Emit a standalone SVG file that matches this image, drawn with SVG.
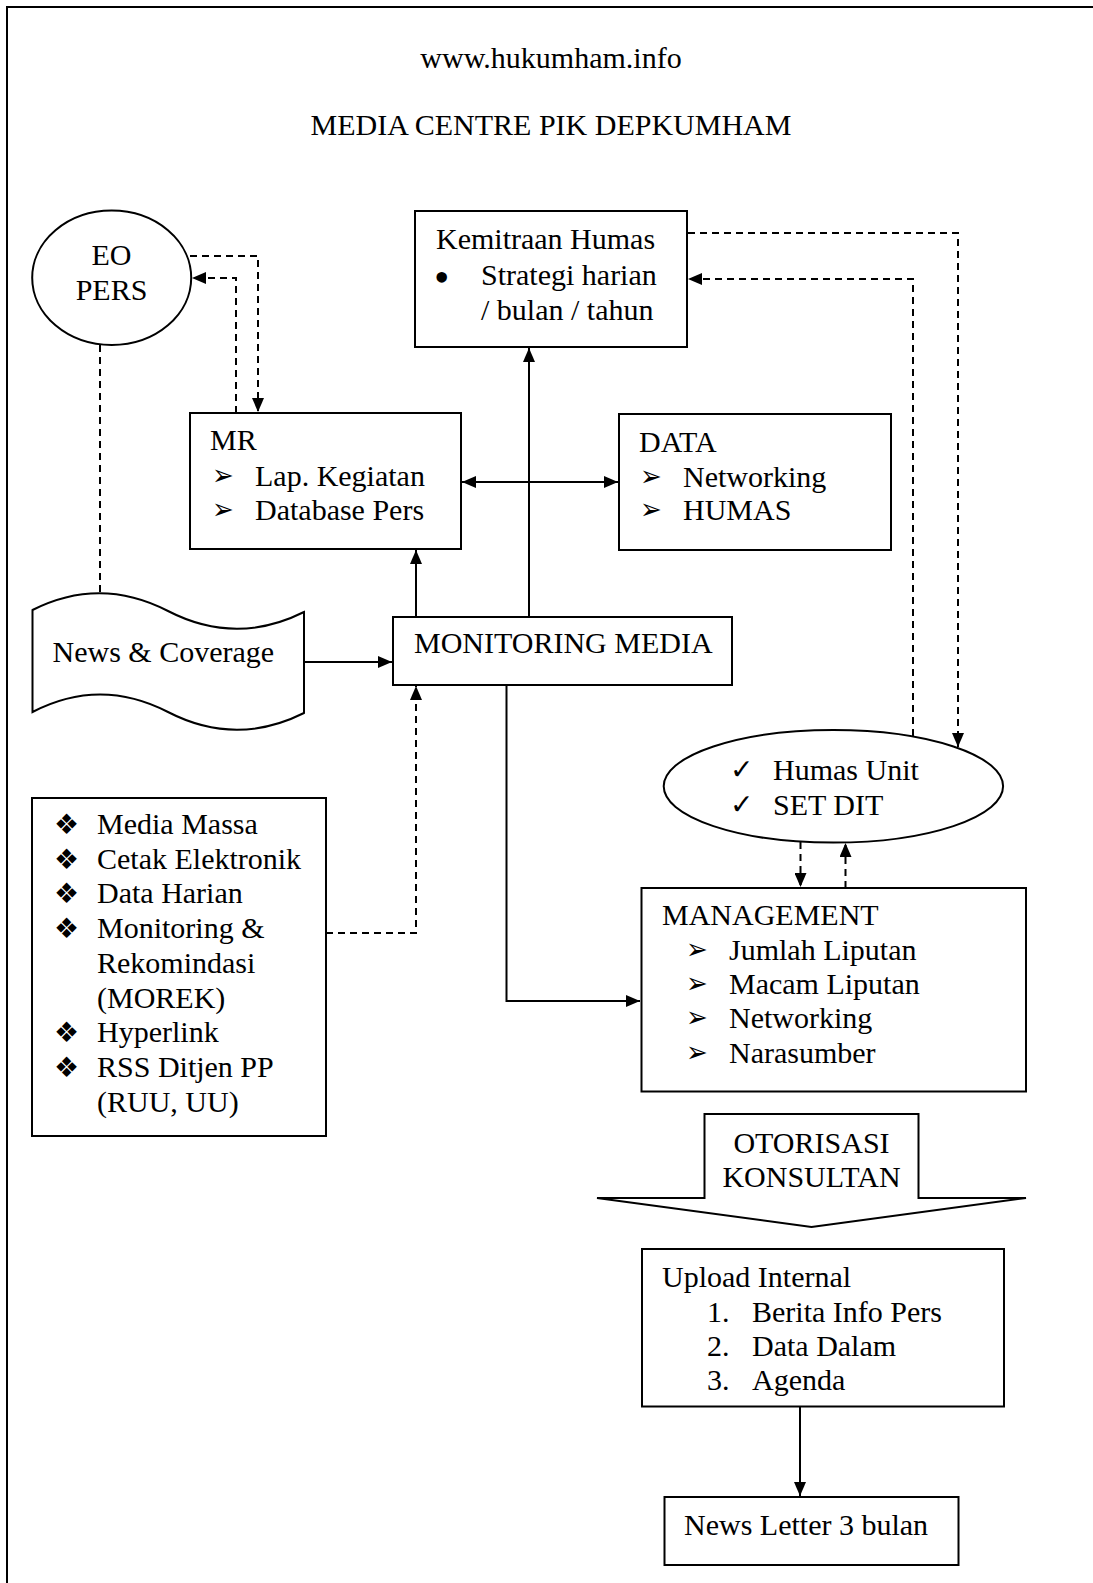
<svg xmlns="http://www.w3.org/2000/svg" width="1093" height="1583" viewBox="0 0 1093 1583">
<style>
  text { font-family: "Liberation Serif", "Times New Roman", serif; font-size: 30px; fill: #000; }
  .sym { font-family: "DejaVu Sans", sans-serif; font-size: 28px; }
  .chk { font-family: "DejaVu Sans", sans-serif; font-size: 28px; }
  .arr { font-family: "DejaVu Sans", sans-serif; font-size: 26px; }
  .bul { font-size: 44px; }
  .c { text-anchor: middle; }
  .box { fill: #fff; stroke: #000; stroke-width: 2; }
  .ln { fill: none; stroke: #000; stroke-width: 2; }
  .dash { fill: none; stroke: #000; stroke-width: 2; stroke-dasharray: 7 5; }
</style>
<defs>
  <marker id="ah" markerUnits="userSpaceOnUse" markerWidth="14" markerHeight="12" refX="14" refY="6" orient="auto-start-reverse">
    <path d="M0,0 L14,6 L0,12 z" fill="#000"/>
  </marker>
</defs>
<rect x="0" y="0" width="1093" height="1583" fill="#fff"/>
<rect x="7" y="7" width="1200" height="1700" fill="none" stroke="#000" stroke-width="2"/>

<g id="title">
  <text class="c" x="551" y="68">www.hukumham.info</text>
  <text class="c" x="551" y="135">MEDIA CENTRE PIK DEPKUMHAM</text>
</g>

<g id="connectors">
  <path class="dash" d="M190,256 H258 V412" marker-end="url(#ah)"/>
  <path class="dash" d="M236,413 V278 H192" marker-end="url(#ah)"/>
  <path class="dash" d="M100,345 V592"/>
  <path class="ln" d="M304,662 H392" marker-end="url(#ah)"/>
  <path class="ln" d="M416,617 V550" marker-end="url(#ah)"/>
  <path class="ln" d="M529,617 V348" marker-end="url(#ah)"/>
  <path class="ln" d="M462,482 H618" marker-start="url(#ah)" marker-end="url(#ah)"/>
  <path class="dash" d="M688,233 H958 V747" marker-end="url(#ah)"/>
  <path class="dash" d="M913,736 V279 H688" marker-end="url(#ah)"/>
  <path class="dash" d="M326,933 H416 V686" marker-end="url(#ah)"/>
  <path class="ln" d="M506.5,686 V1001 H640" marker-end="url(#ah)"/>
  <path class="dash" d="M800.5,842 V887" marker-end="url(#ah)"/>
  <path class="dash" d="M845.5,888 V843" marker-end="url(#ah)"/>
  <path class="ln" d="M800,1407 V1496" marker-end="url(#ah)"/>
</g>

<g id="eo-pers">
  <ellipse class="box" cx="111.7" cy="277.8" rx="79.5" ry="67.2"/>
  <text class="c" x="111.5" y="265">EO</text>
  <text class="c" x="111.5" y="300">PERS</text>
</g>

<g id="kemitraan">
  <rect class="box" x="415" y="211" width="272" height="136"/>
  <text x="436" y="249">Kemitraan Humas</text>
  <text class="bul" x="434" y="292">•</text>
  <text x="481" y="285">Strategi harian</text>
  <text x="481" y="320">/ bulan / tahun</text>
</g>

<g id="mr">
  <rect class="box" x="190" y="413" width="271" height="136"/>
  <text x="210" y="450">MR</text>
  <text class="arr" transform="translate(212,485) scale(1,1.12)">➢</text>
  <text x="255" y="486">Lap. Kegiatan</text>
  <text class="arr" transform="translate(212,519) scale(1,1.12)">➢</text>
  <text x="255" y="520">Database Pers</text>
</g>

<g id="data">
  <rect class="box" x="619" y="414" width="272" height="136"/>
  <text x="639" y="452">DATA</text>
  <text class="arr" transform="translate(640,486) scale(1,1.12)">➢</text>
  <text x="683" y="487">Networking</text>
  <text class="arr" transform="translate(640,519) scale(1,1.12)">➢</text>
  <text x="683" y="520">HUMAS</text>
</g>

<g id="news-coverage">
  <path class="box" d="M32.5,610 Q100,576 168,611 T304,612 V713 Q236,747 168,712 T32.5,712 Z"/>
  <text x="52.5" y="662">News &amp; Coverage</text>
</g>

<g id="monitoring-media">
  <rect class="box" x="393" y="617" width="339" height="68"/>
  <text x="414" y="653">MONITORING MEDIA</text>
</g>

<g id="sources">
  <rect class="box" x="32" y="798" width="294" height="338"/>
  <text class="sym" x="54" y="834">❖</text>
  <text x="97" y="834">Media Massa</text>
  <text class="sym" x="54" y="868.7">❖</text>
  <text x="97" y="868.7">Cetak Elektronik</text>
  <text class="sym" x="54" y="903.4">❖</text>
  <text x="97" y="903.4">Data Harian</text>
  <text class="sym" x="54" y="938.1">❖</text>
  <text x="97" y="938.1">Monitoring &amp;</text>
  <text x="97" y="972.8">Rekomindasi</text>
  <text x="97" y="1007.5">(MOREK)</text>
  <text class="sym" x="54" y="1042.2">❖</text>
  <text x="97" y="1042.2">Hyperlink</text>
  <text class="sym" x="54" y="1076.9">❖</text>
  <text x="97" y="1076.9">RSS Ditjen PP</text>
  <text x="97" y="1111.6">(RUU, UU)</text>
</g>

<g id="humas-unit">
  <ellipse class="box" cx="833.4" cy="786.3" rx="169.7" ry="56.3"/>
  <text class="chk" x="730" y="779">✓</text>
  <text x="773" y="780">Humas Unit</text>
  <text class="chk" x="730" y="814">✓</text>
  <text x="773" y="815">SET DIT</text>
</g>

<g id="management">
  <rect class="box" x="641.5" y="888" width="384.5" height="203.5"/>
  <text x="662" y="925">MANAGEMENT</text>
  <text class="arr" transform="translate(686,959) scale(1,1.12)">➢</text>
  <text x="729" y="960">Jumlah Liputan</text>
  <text class="arr" transform="translate(686,993) scale(1,1.12)">➢</text>
  <text x="729" y="994">Macam Liputan</text>
  <text class="arr" transform="translate(686,1027) scale(1,1.12)">➢</text>
  <text x="729" y="1028">Networking</text>
  <text class="arr" transform="translate(686,1062) scale(1,1.12)">➢</text>
  <text x="729" y="1063">Narasumber</text>
</g>

<g id="otorisasi">
  <polygon class="box" points="704.5,1114 918.5,1114 918.5,1198 1026,1198 811.5,1227 597,1198 704.5,1198"/>
  <text class="c" x="811.5" y="1153">OTORISASI</text>
  <text class="c" x="811.5" y="1187">KONSULTAN</text>
</g>

<g id="upload-internal">
  <rect class="box" x="642" y="1249" width="362" height="157.5"/>
  <text x="662" y="1287">Upload Internal</text>
  <text x="707" y="1322">1.</text>
  <text x="752" y="1322">Berita Info Pers</text>
  <text x="707" y="1356">2.</text>
  <text x="752" y="1356">Data Dalam</text>
  <text x="707" y="1390">3.</text>
  <text x="752" y="1390">Agenda</text>
</g>

<g id="newsletter">
  <rect class="box" x="664.5" y="1497" width="294" height="68"/>
  <text x="684" y="1535">News Letter 3 bulan</text>
</g>
</svg>
